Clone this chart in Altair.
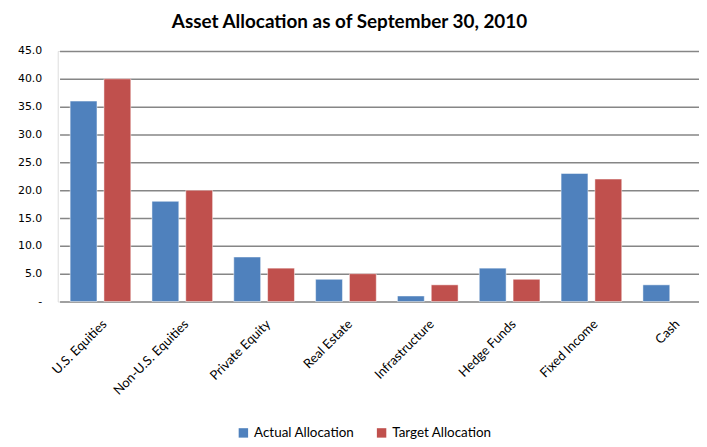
import altair as alt
import pandas as pd

categories = ["U.S. Equities", "Non-U.S. Equities", "Private Equity", "Real Estate",
              "Infrastructure", "Hedge Funds", "Fixed Income", "Cash"]
actual = [36, 18, 8, 4, 1, 6, 23, 3]
target = [40, 20, 6, 5, 3, 4, 22, None]
series = ["Actual Allocation", "Target Allocation"]
colors = ["#4F81BD", "#C0504D"]

rows = []
for c, a, t in zip(categories, actual, target):
    rows.append({"cat": c, "series": series[0], "value": a})
    if t is not None:
        rows.append({"cat": c, "series": series[1], "value": t})
df = pd.DataFrame(rows)

bars = alt.Chart(df).mark_bar(stroke="white", strokeWidth=0.8, strokeOpacity=0.6).encode(
    x=alt.X("cat:N", sort=categories,
            scale=alt.Scale(range=[1.85, 660.25], paddingInner=0, paddingOuter=0),
            axis=alt.Axis(title=None, labelAngle=-45, labelAlign="right", labelBaseline="top",
                          labelFont="Lato", labelFontSize=13, labelColor="#000000",
                          domain=False, ticks=False, labelPadding=16, labelOverlap=False,
                          labelLimit=200)),
    xOffset=alt.XOffset("series:N", sort=series,
                        scale=alt.Scale(paddingInner=0.206, paddingOuter=0.313)),
    y=alt.Y("value:Q", scale=alt.Scale(domain=[0, 45], nice=False),
            axis=alt.Axis(title=None, values=list(range(0, 50, 5)),
                          labelExpr="datum.value == 0 ? '-' : format(datum.value, '.1f')",
                          labelFont="DejaVu Sans", labelFontSize=11, labelColor="#000000",
                          domain=False, ticks=False, labelPadding=16,
                          grid=True, gridColor="#868686", gridWidth=1.5)),
    color=alt.Color("series:N", sort=series, scale=alt.Scale(domain=series, range=colors),
                    legend=alt.Legend(title=None, orient="none", direction="horizontal",
                                      legendX=180, legendY=377, symbolType="square",
                                      symbolSize=90, symbolStrokeWidth=0,
                                      labelFont="Lato", labelFontSize=13.5,
                                      labelColor="#000000", columnPadding=20,
                                      labelOffset=4)),
)

chart = bars.properties(
    width=645, height=252,
    title=alt.TitleParams("Asset Allocation as of September 30, 2010",
                          font="Lato", fontSize=19, fontWeight="bold", color="#000000",
                          anchor="middle", dx=-29, offset=13),
    autosize=alt.AutoSizeParams(type="none"),
    padding={"left": 50, "top": 42, "right": 0, "bottom": 137},
).configure_view(stroke=None).configure(background="white")

chart.save("out.html", embed_options={"renderer": "svg", "actions": False})
